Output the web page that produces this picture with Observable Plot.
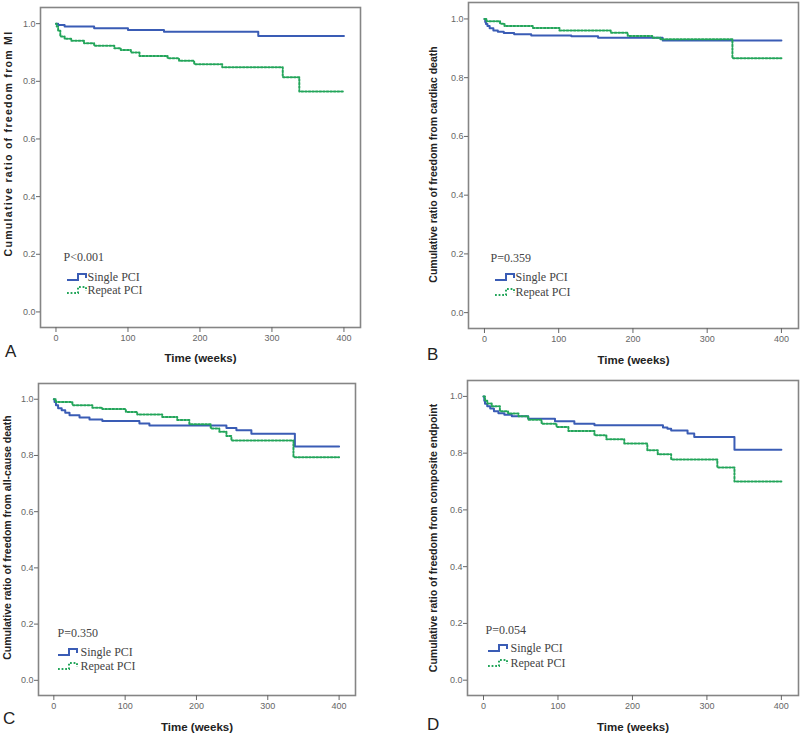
<!DOCTYPE html>
<html><head><meta charset="utf-8">
<script src="https://cdn.jsdelivr.net/npm/d3@7"></script>
<script src="https://cdn.jsdelivr.net/npm/@observablehq/plot@0.6"></script>
<style>
body{margin:0;background:#fff;}
#wrap{position:relative;width:800px;height:735px;overflow:hidden;background:#fff;}
.panel{position:absolute;}
.letter{position:absolute;font-family:"Liberation Sans",Arial,sans-serif;font-size:17px;color:#222;line-height:20px;}
</style></head><body><div id="wrap"></div>
<script>
// ---------- data ----------
const panelIds = ["A", "B", "C", "D"];
const yTitles = [
  "Cumulative ratio of freedom from MI",
  "Cumulative ratio of freedom from cardiac death",
  "Cumulative ratio of freedom from all-cause death",
  "Cumulative ratio of freedom from composite endpoint"
];
const xTitle = "Time (weeks)";
const pValues = ["P<0.001", "P=0.359", "P=0.350", "P=0.054"];
const seriesNames = ["Single PCI", "Repeat PCI"];
const xTicks = [0, 100, 200, 300, 400];
const yTicks = [0, 0.2, 0.4, 0.6, 0.8, 1.0];

// Panel A: freedom from MI
const A_single_t = [0, 3, 12, 53, 100, 150, 281, 400];
const A_single_s = [1.0, 0.995, 0.99, 0.984, 0.978, 0.972, 0.957, 0.957];
const A_repeat_t = [0, 1, 3, 6, 12, 21, 39, 53, 81, 90, 104, 116, 155, 171, 192, 231, 315, 338, 400];
const A_repeat_s = [1.0, 0.99, 0.975, 0.955, 0.948, 0.941, 0.932, 0.923, 0.915, 0.909, 0.900, 0.888, 0.880, 0.871, 0.859, 0.849, 0.814, 0.765, 0.765];

// Panel B: freedom from cardiac death
const B_single_t = [0, 1, 2, 4, 7, 12, 18, 26, 40, 63, 117, 153, 240, 400];
const B_single_s = [1.0, 0.99, 0.983, 0.976, 0.968, 0.961, 0.956, 0.952, 0.948, 0.944, 0.941, 0.936, 0.927, 0.927];
const B_repeat_t = [0, 3, 21, 27, 65, 101, 170, 193, 226, 237, 334, 400];
const B_repeat_s = [1.0, 0.992, 0.984, 0.976, 0.969, 0.961, 0.953, 0.942, 0.936, 0.931, 0.866, 0.866];

// Panel C: freedom from all-cause death
const C_single_t = [0, 1, 3, 6, 11, 16, 22, 36, 50, 68, 120, 134, 242, 256, 277, 338, 400];
const C_single_s = [1.0, 0.99, 0.979, 0.968, 0.961, 0.952, 0.943, 0.935, 0.928, 0.923, 0.914, 0.907, 0.898, 0.890, 0.877, 0.832, 0.832];
const C_repeat_t = [0, 3, 26, 54, 68, 101, 117, 152, 173, 190, 220, 232, 242, 249, 336, 400];
const C_repeat_s = [1.0, 0.990, 0.979, 0.970, 0.965, 0.955, 0.946, 0.937, 0.926, 0.911, 0.896, 0.884, 0.869, 0.853, 0.794, 0.794];

// Panel D: freedom from composite endpoint
const D_single_t = [0, 1, 2, 5, 9, 14, 20, 28, 38, 60, 96, 122, 149, 241, 247, 252, 274, 283, 337, 400];
const D_single_s = [1.0, 0.985, 0.974, 0.965, 0.957, 0.948, 0.941, 0.935, 0.930, 0.921, 0.912, 0.904, 0.898, 0.890, 0.886, 0.880, 0.869, 0.857, 0.812, 0.812];
const D_repeat_t = [0, 2, 5, 11, 22, 33, 47, 60, 78, 98, 114, 149, 165, 189, 220, 234, 252, 314, 337, 400];
const D_repeat_s = [1.0, 0.985, 0.975, 0.965, 0.948, 0.940, 0.930, 0.918, 0.904, 0.892, 0.878, 0.863, 0.849, 0.834, 0.810, 0.796, 0.778, 0.749, 0.700, 0.700];

const curves = {
  A: [[A_single_t, A_single_s], [A_repeat_t, A_repeat_s]],
  B: [[B_single_t, B_single_s], [B_repeat_t, B_repeat_s]],
  C: [[C_single_t, C_single_s], [C_repeat_t, C_repeat_s]],
  D: [[D_single_t, D_single_s], [D_repeat_t, D_repeat_s]]
};

// ---------- layout (not data) ----------
const layout = {
  A: {left: 0, top: 0, w: 400, h: 370, ml: 40, mr: 40, mt: 7, mb: 43, ytDx: -32, ytDy: -24, ytSpacing: 1.3, xtDy: 31,
      pDx: 23, pDy: -70, swDx: 27, txDx: 47, r1: -50, r2: -37, letter: [5, 342]},
  B: {left: 400, top: 0, w: 400, h: 370, ml: 68, mr: 2, mt: 2, mb: 42, ytDx: -35, ytDy: -1, ytSpacing: 0, xtDy: 32,
      pDx: 22, pDy: -70, swDx: 27, txDx: 47, r1: -51, r2: -36, letter: [427, 345]},
  C: {left: 0, top: 370, w: 400, h: 365, ml: 38, mr: 45, mt: 13, mb: 40, ytDx: -31, ytDy: -2, ytSpacing: 0, xtDy: 32,
      pDx: 19, pDy: -62, swDx: 20, txDx: 42, r1: -43, r2: -29, letter: [3, 709]},
  D: {left: 400, top: 370, w: 400, h: 365, ml: 67, mr: 2, mt: 10, mb: 40, ytDx: -34, ytDy: 0, ytSpacing: 0, xtDy: 32,
      pDx: 18, pDy: -65, swDx: 21, txDx: 43, r1: -47, r2: -32, letter: [427, 715]}
};
const colors = ["#3a5cb5", "#23a55a"];
const dash = "1.8,1.8";
const xDomain = [-21.5, 423];
const yDomain = [-0.054, 1.056];
const serif = "'Liberation Serif', 'Times New Roman', serif";

const wrap = document.getElementById("wrap");

panelIds.forEach((id, i) => {
  const L = layout[id];
  const [[st, ss], [rt, rs]] = curves[id];
  const single = d3.zip(st, ss).map(([t, s]) => ({t, s}));
  const repeat = d3.zip(rt, rs).map(([t, s]) => ({t, s}));

  const chart = Plot.plot({
    width: L.w, height: L.h,
    marginLeft: L.ml, marginRight: L.mr, marginTop: L.mt, marginBottom: L.mb,
    style: {fontFamily: "'Liberation Sans', Arial, sans-serif", fontSize: "9px", background: "#fff", overflow: "visible"},
    x: {domain: xDomain},
    y: {domain: yDomain},
    marks: [
      Plot.frame({stroke: "#858585", strokeWidth: 1.6}),
      Plot.axisY({ticks: yTicks, tickFormat: d3.format(".1f"), tickSize: 4, tickPadding: 1, label: null, color: "#666", fontSize: 9}),
      Plot.axisX({ticks: xTicks, tickFormat: d3.format("d"), tickSize: 5, tickPadding: 2, label: null, color: "#666", fontSize: 9}),
      Plot.line(single, {x: "t", y: "s", curve: "step-after", stroke: colors[0], strokeWidth: 2}),
      Plot.line(repeat, {x: "t", y: "s", curve: "step-after", stroke: colors[1], strokeWidth: 2, strokeDasharray: dash}),
      Plot.text([yTitles[i]], {frameAnchor: "left", textAnchor: "middle", lineAnchor: "middle", dx: L.ytDx, dy: L.ytDy, rotate: -90, fontWeight: "bold", fontSize: 10.5, fill: "#222"}),
      Plot.text([xTitle], {frameAnchor: "bottom", textAnchor: "middle", lineAnchor: "middle", dy: L.xtDy, fontWeight: "bold", fontSize: 11.5, fill: "#222"}),
      Plot.text([pValues[i]], {frameAnchor: "bottom-left", dx: L.pDx, dy: L.pDy, textAnchor: "start", lineAnchor: "middle", fontFamily: serif, fontSize: 12, fill: "#444"}),
      Plot.text([seriesNames[0]], {frameAnchor: "bottom-left", dx: L.txDx, dy: L.r1, textAnchor: "start", lineAnchor: "middle", fontFamily: serif, fontSize: 12, fill: "#444"}),
      Plot.text([seriesNames[1]], {frameAnchor: "bottom-left", dx: L.txDx, dy: L.r2, textAnchor: "start", lineAnchor: "middle", fontFamily: serif, fontSize: 12, fill: "#444"})
    ]
  });

  const svg = d3.select(chart);
  if (L.ytSpacing) {
    svg.selectAll("text").filter(function () { return this.textContent === yTitles[i]; })
      .attr("letter-spacing", L.ytSpacing);
  }
  // legend step swatches
  const fx = L.ml + L.swDx, fy = L.h - L.mb;
  const swatch = "M0,3 H11 V-3 H19 V1";
  svg.append("path").attr("d", swatch).attr("transform", `translate(${fx},${fy + L.r1})`)
    .attr("fill", "none").attr("stroke", colors[0]).attr("stroke-width", 2);
  svg.append("path").attr("d", swatch).attr("transform", `translate(${fx},${fy + L.r2})`)
    .attr("fill", "none").attr("stroke", colors[1]).attr("stroke-width", 2).attr("stroke-dasharray", dash);

  const div = document.createElement("div");
  div.className = "panel";
  div.style.left = L.left + "px";
  div.style.top = L.top + "px";
  div.appendChild(chart);
  wrap.appendChild(div);

  const letter = document.createElement("div");
  letter.className = "letter";
  letter.style.left = L.letter[0] + "px";
  letter.style.top = L.letter[1] + "px";
  letter.textContent = id;
  wrap.appendChild(letter);
});
</script>
</body></html>
